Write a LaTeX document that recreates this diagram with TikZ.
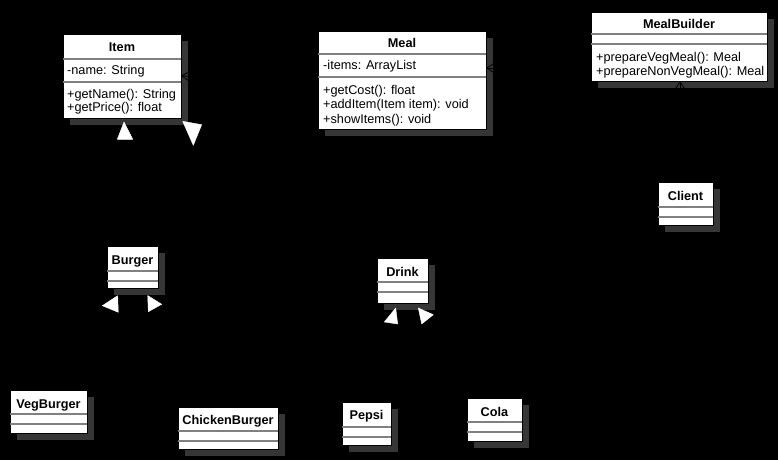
\documentclass[tikz,border=0pt]{standalone}
\usepackage{fontspec}
\setmainfont{Liberation Sans}
\usetikzlibrary{arrows.meta}
\definecolor{shadowc}{RGB}{54,54,54}
\definecolor{dividergray}{RGB}{128,128,128}
\tikzset{
  classbox/.style={draw=black, fill=white, inner sep=0pt, outer sep=0pt, anchor=north west, line width=0.5pt},
  ctitle/.style={font=\fontsize{12.7}{14}\selectfont\bfseries, anchor=base, inner sep=0pt},
  member/.style={font=\fontsize{12.7}{14}\selectfont, anchor=base west, inner sep=0pt},
  divider/.style={draw=dividergray, line width=2pt},
  conn/.style={draw=black, line width=0.8pt},
  assoc/.style={conn, -{Straight Barb[length=7pt,width=9pt]}},
  gen/.style={fill=white, draw=white, line width=0.4pt, line join=round},
  shad/.style={fill=shadowc}
}
\begin{document}
\begin{tikzpicture}[x=1pt,y=-1pt]
\fill[black] (0,0) rectangle (778,460);
\useasboundingbox (0,0) rectangle (778,460);

% ---- shadows ----
\fill[shad] (70,41) rectangle (188,125);
\fill[shad] (325,38) rectangle (493,136);
\fill[shad] (598,19) rectangle (774,88);
\fill[shad] (665,189) rectangle (720,232);
\fill[shad] (114,253) rectangle (165,295);
\fill[shad] (384,265) rectangle (435,310);
\fill[shad] (17,397) rectangle (94,440);
\fill[shad] (185,414) rectangle (285,456);
\fill[shad] (349,409) rectangle (398,452);
\fill[shad] (474,405) rectangle (529,448);

% ---- class boxes ----
\node[classbox, minimum width=118pt, minimum height=84pt] (item) at (63,34) {};
\node[classbox, minimum width=168pt, minimum height=98pt] (meal) at (318,31) {};
\node[classbox, minimum width=176pt, minimum height=69pt] (mealbuilder) at (591,12) {};
\node[classbox, minimum width=55pt, minimum height=43pt] (client) at (658,182) {};
\node[classbox, minimum width=51pt, minimum height=42pt] (burger) at (107,246) {};
\node[classbox, minimum width=51pt, minimum height=45pt] (drink) at (377,258) {};
\node[classbox, minimum width=77pt, minimum height=43pt] (vegburger) at (10,390) {};
\node[classbox, minimum width=100pt, minimum height=42pt] (chickenburger) at (178,407) {};
\node[classbox, minimum width=49pt, minimum height=43pt] (pepsi) at (342,402) {};
\node[classbox, minimum width=55pt, minimum height=43pt] (cola) at (467,398) {};

% ---- dividers ----
\draw[divider] (63,59) -- (181,59);   \draw[divider] (63,82) -- (181,82);
\draw[divider] (318,54) -- (486,54);  \draw[divider] (318,77) -- (486,77);
\draw[divider] (591,34) -- (767,34);  \draw[divider] (591,44) -- (767,44);
\draw[divider] (658,207) -- (713,207); \draw[divider] (658,217) -- (713,217);
\draw[divider] (107,271) -- (158,271); \draw[divider] (107,281) -- (158,281);
\draw[divider] (377,282) -- (428,282); \draw[divider] (377,292) -- (428,292);
\draw[divider] (10,414) -- (87,414);   \draw[divider] (10,424) -- (87,424);
\draw[divider] (178,431) -- (278,431); \draw[divider] (178,441) -- (278,441);
\draw[divider] (342,427) -- (391,427); \draw[divider] (342,437) -- (391,437);
\draw[divider] (467,422) -- (522,422); \draw[divider] (467,432) -- (522,432);

% ---- texts ----
\node[ctitle] (itemT) at (122,51.5) {Item};
\node[member] (itemA) at (67,74.5) {-name: String};
\node[member] (itemM1) at (67,98.5) {+getName(): String};
\node[member] (itemM2) at (67,111.5) {+getPrice(): float};

\node[ctitle] (mealT) at (402,48) {Meal};
\node[member] (mealA) at (323,69.5) {-items: ArrayList};
\node[member] (mealM1) at (323,94.5) {+getCost(): float};
\node[member] (mealM2) at (323,108.8) {+addItem(Item item): void};
\node[member] (mealM3) at (323,123.3) {+showItems(): void};

\node[ctitle] (mbT) at (679,28.5) {MealBuilder};
\node[member] (mbM1) at (596,61.2) {+prepareVegMeal(): Meal};
\node[member] (mbM2) at (596,75.2) {+prepareNonVegMeal(): Meal};

\node[ctitle] (clientT) at (685.5,200.2) {Client};
\node[ctitle] (burgerT) at (132.5,264.5) {Burger};
\node[ctitle] (drinkT) at (402.5,276.2) {Drink};
\node[ctitle] (vegT) at (48.5,408.5) {VegBurger};
\node[ctitle] (chickT) at (228,424.5) {ChickenBurger};
\node[ctitle] (pepsiT) at (366.5,419.5) {Pepsi};
\node[ctitle] (colaT) at (494.5,416.2) {Cola};

% ---- connectors (black lines) ----
\draw[assoc] (meal.west) -- (item.east);
\draw[assoc] (mealbuilder.west |- 0,68) -- (meal.east |- 0,68);
\draw[assoc] (client.north -| 680,0) -- (mealbuilder.south -| 680,0);
\coordinate (bL) at (118,304);
\coordinate (bR) at (148,304);
\draw[conn] (vegburger.north) |- (bL);
\draw[conn] (chickenburger.north) |- (bR);
\coordinate (dL) at (396.7,316);
\coordinate (dR) at (420,316);
\draw[conn] (pepsi.north) -- (dL);
\draw[conn] (cola.north) -- (dR);
\coordinate (iL) at (125,139.3);
\coordinate (iR) at (197.5,135);
\draw[conn] (burger.north) -- (iL);
\draw[conn] (drink.north) -- (iR);

% ---- generalization arrowheads ----
\draw[gen] (124,122) -- (117.3,139.3) -- (132.7,139.3) -- cycle;
\draw[gen] (182.7,121.3) -- (201.7,124.7) -- (193.3,145.3) -- cycle;
\draw[gen] (102.3,305.7) -- (117.7,295.7) -- (118.3,312.3) -- cycle;
\draw[gen] (147.7,295.5) -- (161.7,304.3) -- (148.3,311.7) -- cycle;
\draw[gen] (384.3,322) -- (395.7,308) -- (397.7,324) -- cycle;
\draw[gen] (418.3,308) -- (433.3,314.7) -- (421.7,324) -- cycle;
\end{tikzpicture}
\end{document}
